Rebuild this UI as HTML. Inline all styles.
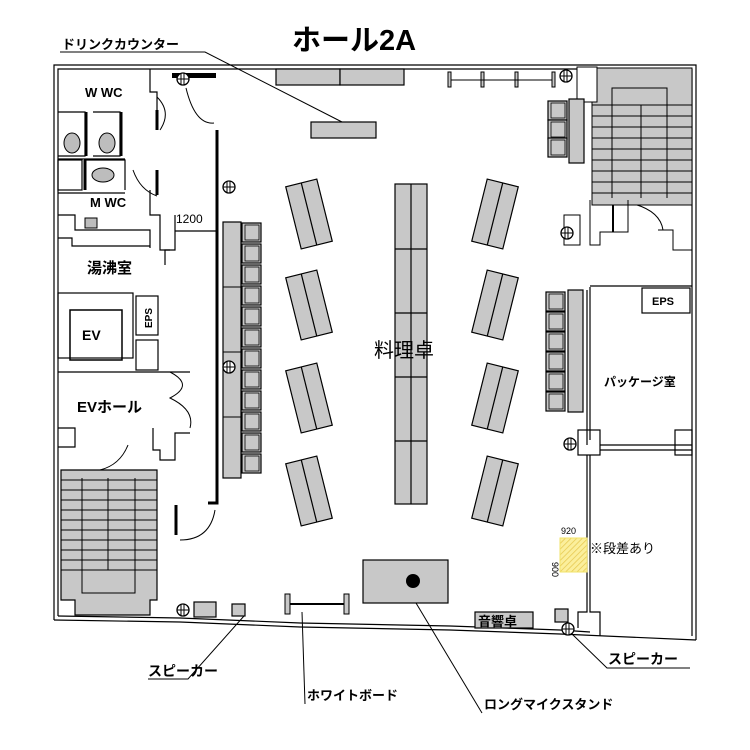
<!DOCTYPE html>
<html><head><meta charset="utf-8"><style>
html,body{margin:0;padding:0;background:#fff;width:750px;height:750px;overflow:hidden}
svg{display:block}
text{font-family:"Liberation Sans","Noto Sans CJK JP",sans-serif}
</style></head><body>
<svg width="750" height="750" viewBox="0 0 750 750" xmlns="http://www.w3.org/2000/svg">
<defs>
<pattern id="hatch" width="4" height="4" patternUnits="userSpaceOnUse" patternTransform="rotate(45)">
<rect width="4" height="4" fill="#fbef9c"/><line x1="0" y1="0" x2="0" y2="4" stroke="#e6c850" stroke-width="1.5"/></pattern>
<g id="spk"><circle cx="0" cy="0" r="6" fill="#fff" stroke="#000" stroke-width="1.3"/><line x1="-2" y1="-6" x2="-2" y2="6" stroke="#000"/><line x1="1" y1="-6" x2="1" y2="6" stroke="#000"/><line x1="-6" y1="0" x2="6" y2="0" stroke="#000"/></g>
<g id="chair"><rect x="0" y="0" width="19" height="19" fill="#c8c8c8" stroke="#000" stroke-width="1.2"/><rect x="3" y="2" width="14" height="15" fill="none" stroke="#000" stroke-width="0.8"/></g>
</defs>
<text x="292" y="50" font-size="29" font-weight="bold">ホール2A</text>

<g fill="none" stroke="#000" stroke-width="1.2">
<polyline points="54,620 54,65 172,65"/>
<polyline points="58,616 58,69 172,69"/>
<line x1="172" y1="65" x2="597" y2="65"/>
<line x1="172" y1="69" x2="597" y2="69"/>
<polyline points="597,65 696,65 696,640"/>
<polyline points="692,69 692,636"/>
<polyline points="54,620 180,622 300,627 450,630 560,634 696,640"/>
<polyline points="58,616 180,618 300,623 450,626 560,630 590,632"/>
<!-- WC -->
<polyline points="150,69 150,92 157,92 157,130"/>
<polyline points="58,112 85,112 85,156 58,156"/>
<polyline points="93,112 120,112 120,156 93,156"/>
<line x1="58" y1="159" x2="125" y2="159"/>
<rect x="58" y="160" width="24" height="30"/>
<polyline points="84,160 125,160 125,190"/>
<line x1="58" y1="193" x2="125" y2="193"/>
<polyline points="58,215 75,215 75,230 150,230 150,248"/>
<polyline points="58,238 72,238 72,246 150,246"/>
<polyline points="150,190 150,215 160,215 160,250 170,250"/>
<polyline points="175,215 175,250 165,250 165,265"/>
<line x1="175" y1="231" x2="217" y2="231"/>
<rect x="58" y="293" width="75" height="65"/>
<rect x="70" y="310" width="52" height="50" stroke-width="1.5"/>
<rect x="136" y="296" width="22" height="39"/>
<rect x="136" y="340" width="22" height="30"/>
<polyline points="58,372 190,372"/>
<polyline points="58,428 75,428 75,447 58,447"/>
<polyline points="153,428 153,450 160,450 160,460 175,460 175,433 190,433"/>
<polygon points="61,470 157,470 157,600 150,600 150,615 75,615 75,600 61,600" fill="#c8c8c8"/>
</g>
<g fill="none" stroke="#000" stroke-width="3">
<polyline points="217,130 217,503 208,503"/>
<polyline points="176,505 176,535"/>
<line x1="157" y1="170" x2="157" y2="195"/>
<line x1="157" y1="110" x2="157" y2="130"/>
<line x1="86" y1="112" x2="86" y2="156"/>
<line x1="121" y1="112" x2="121" y2="156"/>
<line x1="85" y1="160" x2="85" y2="190"/>
</g>
<rect x="172" y="73" width="44" height="5" fill="#000"/>
<g fill="none" stroke="#000" stroke-width="1">
<path d="M186,88 Q195,125 214,123"/>
<path d="M157,97 Q172,112 160,130"/>
<path d="M133,170 Q140,190 157,196"/>
<path d="M170,372 Q195,385 170,398 Q195,410 190,428"/>
<path d="M100,470 Q120,465 128,445"/>
<path d="M180,540 Q210,540 215,510"/>
<path d="M630,203 Q660,210 663,230"/>
</g>
<g fill="#bdbdbd" stroke="#000" stroke-width="1">
<ellipse cx="72" cy="143" rx="8" ry="10"/><ellipse cx="107" cy="143" rx="8" ry="10"/>
<ellipse cx="103" cy="175" rx="11" ry="7"/>
<rect x="85" y="218" width="12" height="10"/>
</g>
<text x="85" y="97" font-size="13" font-weight="bold">W WC</text>
<text x="90" y="207" font-size="13" font-weight="bold">M WC</text>
<text x="87" y="273" font-size="15" font-weight="bold">湯沸室</text>
<text x="82" y="340" font-size="14" font-weight="bold">EV</text>
<text x="152" y="328" font-size="10" font-weight="bold" transform="rotate(-90 152 328)">EPS</text>
<text x="77" y="412" font-size="15" font-weight="bold">EVホール</text>
<text x="176" y="223" font-size="12">1200</text>
<g stroke="#000" stroke-width="1" fill="none">
<line x1="61" y1="480" x2="157" y2="480"/><line x1="61" y1="490" x2="157" y2="490"/><line x1="61" y1="500" x2="157" y2="500"/><line x1="61" y1="510" x2="157" y2="510"/><line x1="61" y1="520" x2="157" y2="520"/><line x1="61" y1="530" x2="157" y2="530"/><line x1="61" y1="540" x2="157" y2="540"/><line x1="61" y1="550" x2="157" y2="550"/><line x1="61" y1="560" x2="157" y2="560"/><line x1="61" y1="570" x2="157" y2="570"/>
<polyline points="108,570 108,478"/>
<polyline points="82,478 82,593 135,593 135,478"/>
</g>
<rect x="592" y="68" width="100" height="137" fill="#c8c8c8" stroke="#000"/>
<g stroke="#000" stroke-width="1" fill="none">
<line x1="592" y1="105" x2="692" y2="105"/><line x1="592" y1="116" x2="692" y2="116"/><line x1="592" y1="127" x2="692" y2="127"/><line x1="592" y1="138" x2="692" y2="138"/><line x1="592" y1="149" x2="692" y2="149"/><line x1="592" y1="160" x2="692" y2="160"/><line x1="592" y1="171" x2="692" y2="171"/><line x1="592" y1="182" x2="692" y2="182"/><line x1="592" y1="193" x2="692" y2="193"/>
<polyline points="612,198 612,88 667,88 667,198"/><line x1="641" y1="105" x2="641" y2="198"/>
<rect x="577" y="67" width="20" height="35" fill="#fff"/>
<polyline points="590,200 590,245 600,245 600,232 628,232 628,200"/>
<polyline points="658,230 673,230 673,250 692,250"/>
<rect x="564" y="215" width="16" height="30" fill="#fff"/>
</g>
<line x1="613" y1="205" x2="613" y2="232" stroke="#000" stroke-width="2"/>
<g fill="none" stroke="#000" stroke-width="1.2">
<polyline points="590,287 590,440"/><polyline points="587,290 587,445"/>
<line x1="590" y1="286" x2="692" y2="286"/>
<rect x="642" y="288" width="48" height="25"/>
<rect x="578" y="430" width="22" height="25"/>
<polyline points="600,445 692,445"/><polyline points="600,450 692,450"/>
<rect x="675" y="430" width="17" height="25"/>
<polyline points="587,455 587,612 578,612 578,628"/><polyline points="590,455 590,612 600,612 600,636"/>
</g>
<text x="652" y="305" font-size="11" font-weight="bold">EPS</text>
<text x="604" y="386" font-size="12" font-weight="bold">パッケージ室</text>
<rect x="560" y="538" width="27" height="34" fill="url(#hatch)" stroke="#f2e36a"/>
<text x="561" y="534" font-size="9">920</text>
<text x="552" y="562" font-size="9" transform="rotate(90 552 562)">900</text>
<text x="590" y="553" font-size="13">※段差あり</text>
<g fill="#c8c8c8" stroke="#000" stroke-width="1.2">
<rect x="276" y="69" width="64" height="16"/><rect x="340" y="69" width="64" height="16"/>
<rect x="311" y="122" width="65" height="16"/>
<rect x="363" y="560" width="85" height="43"/>
<rect x="475" y="612" width="58" height="16"/>
<rect x="194" y="602" width="22" height="15"/>
<rect x="232" y="604" width="13" height="12"/>
<rect x="555" y="609" width="13" height="13"/>
</g>
<circle cx="413" cy="581" r="7" fill="#000"/>
<text x="478" y="626" font-size="13" font-weight="bold">音響卓</text>
<g stroke="#000" stroke-width="1" fill="#c8c8c8">
<rect x="448" y="72" width="3" height="15"/><rect x="481" y="72" width="3" height="15"/><rect x="515" y="72" width="3" height="15"/><rect x="552" y="72" width="3" height="15"/>
<line x1="451" y1="80" x2="552" y2="80"/>
<rect x="285" y="594" width="5" height="20"/><rect x="344" y="594" width="5" height="20"/>
</g>
<line x1="290" y1="604" x2="344" y2="604" stroke="#000" stroke-width="2"/>
<rect x="395" y="184" width="32" height="320" fill="#c8c8c8" stroke="#000" stroke-width="1.2"/>
<g stroke="#000" stroke-width="1.2">
<line x1="411" y1="184" x2="411" y2="504"/>
<line x1="395" y1="249" x2="427" y2="249"/><line x1="395" y1="313" x2="427" y2="313"/><line x1="395" y1="377" x2="427" y2="377"/><line x1="395" y1="441" x2="427" y2="441"/>
</g>
<text x="374" y="357" font-size="20">料理卓</text>
<g fill="#c8c8c8" stroke="#000" stroke-width="1.2">
<g transform="translate(309,214) rotate(-14)"><rect x="-16" y="-32" width="32" height="64"/><line x1="0" y1="-32" x2="0" y2="32"/></g>
<g transform="translate(309,305) rotate(-14)"><rect x="-16" y="-32" width="32" height="64"/><line x1="0" y1="-32" x2="0" y2="32"/></g>
<g transform="translate(309,398) rotate(-14)"><rect x="-16" y="-32" width="32" height="64"/><line x1="0" y1="-32" x2="0" y2="32"/></g>
<g transform="translate(309,491) rotate(-14)"><rect x="-16" y="-32" width="32" height="64"/><line x1="0" y1="-32" x2="0" y2="32"/></g>
<g transform="translate(495,214) rotate(14)"><rect x="-16" y="-32" width="32" height="64"/><line x1="0" y1="-32" x2="0" y2="32"/></g>
<g transform="translate(495,305) rotate(14)"><rect x="-16" y="-32" width="32" height="64"/><line x1="0" y1="-32" x2="0" y2="32"/></g>
<g transform="translate(495,398) rotate(14)"><rect x="-16" y="-32" width="32" height="64"/><line x1="0" y1="-32" x2="0" y2="32"/></g>
<g transform="translate(495,491) rotate(14)"><rect x="-16" y="-32" width="32" height="64"/><line x1="0" y1="-32" x2="0" y2="32"/></g>
</g>
<rect x="223" y="222" width="18" height="256" fill="#c8c8c8" stroke="#000" stroke-width="1.2"/>
<g stroke="#000"><line x1="223" y1="287" x2="241" y2="287"/><line x1="223" y1="352" x2="241" y2="352"/><line x1="223" y1="417" x2="241" y2="417"/></g>
<g>
<use href="#chair" x="242" y="223"/><use href="#chair" x="242" y="244"/><use href="#chair" x="242" y="265"/><use href="#chair" x="242" y="286"/><use href="#chair" x="242" y="307"/><use href="#chair" x="242" y="328"/><use href="#chair" x="242" y="349"/><use href="#chair" x="242" y="370"/><use href="#chair" x="242" y="391"/><use href="#chair" x="242" y="412"/><use href="#chair" x="242" y="433"/><use href="#chair" x="242" y="454"/>
</g>
<g fill="#c8c8c8" stroke="#000" stroke-width="1.2">
<rect x="569" y="99" width="15" height="64"/>
<rect x="568" y="290" width="15" height="122"/>
</g>
<g>
<use href="#chair" x="548" y="101"/><use href="#chair" x="548" y="120"/><use href="#chair" x="548" y="138"/>
<use href="#chair" x="546" y="292"/><use href="#chair" x="546" y="312"/><use href="#chair" x="546" y="332"/><use href="#chair" x="546" y="352"/><use href="#chair" x="546" y="372"/><use href="#chair" x="546" y="392"/>
</g>
<use href="#spk" x="183" y="79"/><use href="#spk" x="229" y="187"/><use href="#spk" x="229" y="367"/>
<use href="#spk" x="566" y="76"/><use href="#spk" x="567" y="233"/><use href="#spk" x="570" y="444"/>
<use href="#spk" x="183" y="610"/><use href="#spk" x="568" y="629"/>
<g stroke="#000" stroke-width="1" fill="none">
<polyline points="60,52 205,52 342,122"/>
<polyline points="148,679 188,679 244,616"/>
<polyline points="305,704 302,612"/>
<polyline points="482,713 416,603"/>
<polyline points="690,668 607,668 572,634"/>
</g>
<text x="62" y="49" font-size="13" font-weight="bold">ドリンクカウンター</text>
<text x="148" y="676" font-size="14" font-weight="bold">スピーカー</text>
<text x="307" y="700" font-size="13" font-weight="bold">ホワイトボード</text>
<text x="484" y="709" font-size="13" font-weight="bold">ロングマイクスタンド</text>
<text x="608" y="664" font-size="14" font-weight="bold">スピーカー</text>
</svg>
</body></html>
